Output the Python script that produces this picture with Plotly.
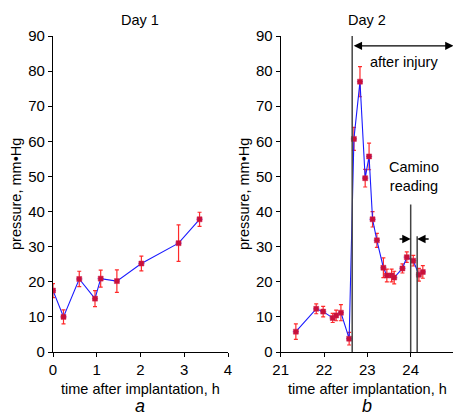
import plotly.graph_objects as go

# Day 1
t1 = [0.0, 0.24, 0.60, 0.96, 1.09, 1.46, 2.02, 2.87, 3.35]
p1 = [17.5, 10.0, 20.8, 15.2, 20.9, 20.2, 25.2, 31.0, 37.8]
e1 = [2.0, 2.0, 2.2, 2.3, 2.4, 3.2, 2.1, 5.2, 2.0]

# Day 2
t2 = [21.35, 21.82, 21.98, 22.20, 22.28, 22.39, 22.58, 22.69, 22.83, 22.95, 23.04,
      23.12, 23.22, 23.37, 23.45, 23.56, 23.62, 23.81, 23.91, 24.06, 24.19, 24.28]
p2 = [5.8, 12.3, 11.5, 9.7, 10.4, 11.2, 3.8, 60.7, 77.0, 49.5, 55.7,
      37.8, 31.8, 24.0, 21.8, 21.8, 21.2, 23.8, 27.0, 26.0, 22.0, 22.8]
e2 = [2.2, 1.4, 1.5, 1.3, 1.5, 2.3, 1.8, 3.3, 4.3, 2.5, 3.8,
      2.2, 2.0, 2.8, 1.8, 1.8, 1.8, 1.3, 1.5, 1.5, 1.8, 1.8]

injury_t = 22.65
camino_t = [24.00, 24.15]
camino_top = [42, 33]

xticks1 = [0, 1, 2, 3, 4]
xticks2 = [21, 22, 23, 24, 25]
yticks = [0, 10, 20, 30, 40, 50, 60, 70, 80, 90]

FONT = "Liberation Sans, Arial, sans-serif"

# page body has an 8px margin; figure is sized so it fits the window
OFF = 8
W, H = 461 - OFF, 418 - OFF
def fx(px):
    return (px - OFF) / W
def fy(py):
    return (418 - py) / H

fig = go.Figure()

def add_series(t, p, e, xa, ya):
    fig.add_trace(go.Scatter(
        x=t, y=p, xaxis=xa, yaxis=ya, mode="lines+markers",
        line=dict(color="#1a1aff", width=1.1),
        marker=dict(symbol="square", size=5, color="#c8103a",
                    line=dict(color="#d02050", width=0.5)),
        error_y=dict(type="data", array=e, color="#ff2a2a", thickness=1.2, width=2),
        error_x=dict(type="constant", value=0.07,
                     color="#7070ff", thickness=1.2, width=0),
        showlegend=False, hoverinfo="x+y"))

add_series(t1, p1, e1, "x", "y")
add_series(t2, p2, e2, "x2", "y2")

ax_common = dict(showline=True, linecolor="black", linewidth=1.2, ticks="outside",
                 ticklen=4, tickcolor="black", showgrid=False, zeroline=False,
                 automargin=False,
                 tickfont=dict(family=FONT, size=15, color="black"))

fig.update_layout(
    width=W, height=H, margin=dict(l=0, r=0, t=0, b=0),
    paper_bgcolor="white", plot_bgcolor="white",
    xaxis=dict(domain=[fx(53), fx(228)], range=[0, 4], tickvals=xticks1, anchor="y", **ax_common),
    yaxis=dict(domain=[fy(352), fy(36)], range=[0, 90], tickvals=yticks, anchor="x", **ax_common),
    xaxis2=dict(domain=[fx(280.7), fx(454)], range=[21, 25], tickvals=xticks2, anchor="y2", **ax_common),
    yaxis2=dict(domain=[fy(352), fy(36)], range=[0, 90], tickvals=yticks, anchor="x2", **ax_common),
)

# vertical lines
shapes = [dict(type="line", xref="x2", yref="y2", x0=injury_t, x1=injury_t, y0=0, y1=90,
               line=dict(color="#444", width=1.5))]
for ct, top in zip(camino_t, camino_top):
    shapes.append(dict(type="line", xref="x2", yref="y2", x0=ct, x1=ct, y0=0, y1=top,
                       line=dict(color="#444", width=1.5)))
fig.update_layout(shapes=shapes)

anns = []
def txt(px, py, s, size=14.5, italic=False, angle=0):
    anns.append(dict(x=fx(px), y=fy(py), xref="paper", yref="paper", text=s, showarrow=False,
                     textangle=angle, xanchor="center", yanchor="middle",
                     font=dict(family=FONT, size=size, color="black",
                               style="italic" if italic else "normal")))

txt(139.5, 20, "Day 1")
txt(367, 20, "Day 2")
txt(140, 389, "time after implantation, h")
txt(367, 389, "time after implantation, h")
txt(140, 405.5, "a", size=18, italic=True)
txt(367, 405.5, "b", size=18, italic=True)
txt(16, 194, "pressure, mm•Hg", angle=-90)
txt(244, 194, "pressure, mm•Hg", angle=-90)

# after injury arrow (double-headed)
anns.append(dict(x=24.99, y=87.2, ax=injury_t, ay=87.2, xref="x2", yref="y2",
                 axref="x2", ayref="y2", showarrow=True, arrowhead=2, arrowside="end+start",
                 arrowsize=1.2, arrowwidth=1.4, arrowcolor="black", text=""))
anns.append(dict(x=23.85, y=82.5, xref="x2", yref="y2", text="after injury", showarrow=False,
                 font=dict(family=FONT, size=14.5, color="black")))
anns.append(dict(x=24.08, y=50, xref="x2", yref="y2", text="Camino<br>reading", showarrow=False,
                 font=dict(family=FONT, size=14.5, color="black")))
# camino arrows
anns.append(dict(x=camino_t[0], y=32.2, ax=23.71, ay=32.2, xref="x2", yref="y2",
                 axref="x2", ayref="y2", showarrow=True, arrowhead=2, arrowsize=1.2,
                 arrowwidth=1.4, arrowcolor="black", text=""))
anns.append(dict(x=camino_t[1], y=32.2, ax=24.45, ay=32.2, xref="x2", yref="y2",
                 axref="x2", ayref="y2", showarrow=True, arrowhead=2, arrowsize=1.2,
                 arrowwidth=1.4, arrowcolor="black", text=""))
fig.update_layout(annotations=anns)

fig.write_html("out.html")
